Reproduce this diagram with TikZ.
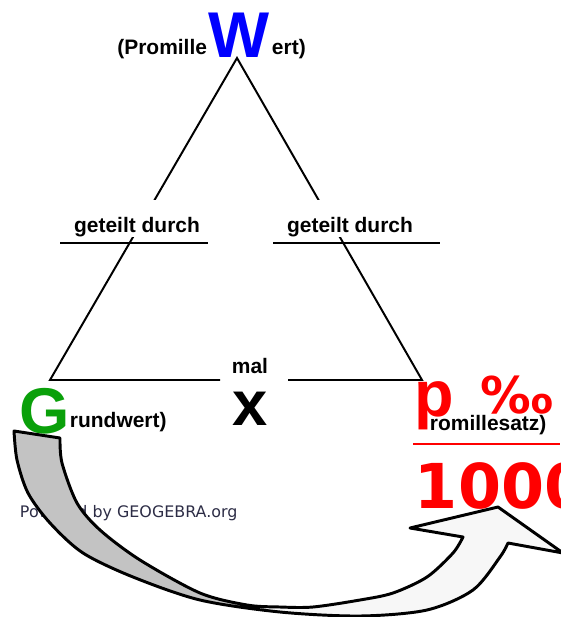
\documentclass[tikz,border=0pt]{standalone}
\usepackage{fontspec}
\setmainfont{Liberation Sans}
\newfontfamily\dejavu{DejaVu Sans}
\usetikzlibrary{positioning}

\definecolor{gruen}{RGB}{10,160,10}
\definecolor{schatten}{RGB}{195,195,195}
\definecolor{geogebra}{RGB}{45,45,70}

\tikzset{
  klein/.style={font=\fontsize{14.9}{17}\selectfont\bfseries, inner sep=0pt},
  gross/.style={font=\fontsize{46}{50}\selectfont\bfseries, inner sep=0pt},
  geteilt/.style={klein, fill=white, text height=19pt, text depth=0pt, inner xsep=2pt, inner ysep=3.5pt},
  bruch/.style={line width=1.4pt},
}

\newcommand\bogenpfeil{plot[smooth] coordinates {(14,431) (17,460) (28,493) (50,523) (83,553)
    (133,577) (200,600) (280,612) (360,616) (427,610) (473,590) (500,557) (508,543)}
  -- (563,553) -- (498,507) -- (410,528)
  -- plot[smooth] coordinates {(463,537) (453,553) (427,577) (393,593) (360,600) (313,607)
    (280,607) (247,605) (200,593) (140,560) (100,530) (77,503) (62,463) (60,438)}
  -- cycle}

\begin{document}
\begin{tikzpicture}[x=0.025cm, y=-0.025cm, line width=1.4pt]
  \useasboundingbox (0,0) rectangle (560,617);

  \coordinate (oben) at (237,58);
  \coordinate (links) at (50,380);
  \coordinate (rechts) at (422,380);
  \coordinate (mal-l) at (220,380);
  \coordinate (mal-r) at (288,380);
  \draw (mal-l) -- (links) -- (oben) -- (rechts) -- (mal-r);

  \node[geteilt, anchor=base] (geteilt-links) at (137,232) {geteilt durch};
  \node[geteilt, anchor=base] (geteilt-rechts) at (350,232) {geteilt durch};
  \coordinate (bruch-links-a) at (60,243);
  \coordinate (bruch-links-b) at (208,243);
  \coordinate (bruch-rechts-a) at (273,243);
  \coordinate (bruch-rechts-b) at (440,243);
  \draw[bruch] (bruch-links-a) -- (bruch-links-b);
  \draw[bruch] (bruch-rechts-a) -- (bruch-rechts-b);

  \node[gross, text=blue, anchor=base] (W) at (239,58) {W};
  \node[klein, anchor=base east] (promille) at (208,55) {(Promille};
  \node[klein, anchor=base west] (ert) at (271,55) {ert)};

  \node[klein, anchor=base] (mal) at (250,373) {mal};
  \node[font=\fontsize{45}{50}\selectfont\bfseries, inner sep=0pt, anchor=base] (mal-x) at (250,425) {x};

  \node[gross, text=gruen, anchor=base west] (G) at (19,433) {G};
  \node[klein, anchor=base west] (grundwert) at (69,427) {rundwert)};

  \node[gross, text=red, anchor=base west] (p) at (414,416) {p};
  \node[font=\dejavu\bfseries\fontsize{36}{40}\selectfont, text=red, inner sep=0pt, anchor=base west] (promillezeichen) at (480,413) {‰};
  \node[klein, anchor=base west] (romillesatz) at (429,430) {romillesatz)};
  \coordinate (bruchstrich-a) at (413,444);
  \coordinate (bruchstrich-b) at (560,444);
  \draw[bruch, red] (bruchstrich-a) -- (bruchstrich-b);
  \node[font=\dejavu\bfseries\fontsize{44}{50}\selectfont, text=red, inner sep=0pt, anchor=base west] (tausend) at (414,508) {1000};

  \node[font=\dejavu\fontsize{11.3}{13}\selectfont, text=geogebra, inner sep=0pt, anchor=base west] (powered) at (19,517) {Powered by GEOGEBRA.org};

  \fill[white!97!black] \bogenpfeil;
  \begin{scope}
    \clip \bogenpfeil;
    \fill[schatten] (0,420) rectangle (255,617);
  \end{scope}
  \draw[line width=2.1pt, line join=round] \bogenpfeil;
\end{tikzpicture}
\end{document}
